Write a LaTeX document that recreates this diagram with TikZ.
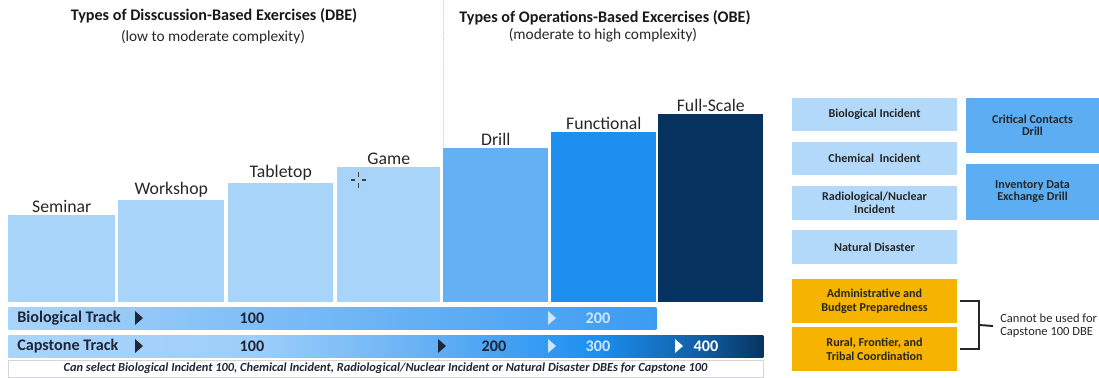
\documentclass[tikz,border=0pt]{standalone}
\usepackage{fontspec}
\setmainfont{Carlito}
\usetikzlibrary{positioning,calc}
\definecolor{Pale}{HTML}{A9D4FA}
\definecolor{Sky}{HTML}{64B0F5}
\definecolor{Azure}{HTML}{1C8FF1}
\definecolor{Navy}{HTML}{073361}
\definecolor{BioEnd}{HTML}{3C9BF1}
\definecolor{Chip}{HTML}{B2D9F9}
\definecolor{ChipDark}{HTML}{5DADF2}
\definecolor{Gold}{HTML}{F6B401}
\definecolor{Ink}{HTML}{1E2638}
\definecolor{Mist}{HTML}{CDE6FC}
\definecolor{Rule}{HTML}{D2D6DA}
\newcommand{\px}{0.025cm}
\pgfdeclarehorizontalshading{capshade}{100bp}{color(0bp)=(Pale); color(25bp)=(Pale); color(41bp)=(Pale!85!Sky); color(53bp)=(Sky); color(64bp)=(Azure); color(71bp)=(Azure!45!Navy); color(75bp)=(Navy); color(100bp)=(Navy)}
\tikzset{
 barlbl/.style={font=\fontsize{12.6}{14}\selectfont,text=black!85,inner sep=1pt},
 bar/.style={anchor=south west,inner sep=0pt,minimum width=105*\px,label={[barlbl]above:#1}},
 head/.style={font=\bfseries\fontsize{11.5}{13}\selectfont,text=black!90},
 sub/.style={font=\fontsize{10.9}{12}\selectfont,text=black!85},
 track/.style={anchor=north west,inner sep=0pt,minimum height=22*\px},
 trk/.style={font=\bfseries\fontsize{11.5}{13}\selectfont,text=Ink,inner sep=0pt},
 notebox/.style={draw=Rule,fill=white,minimum width=755*\px,minimum height=17*\px,inner sep=0pt,font=\bfseries\itshape\fontsize{8.8}{9}\selectfont,text=Ink},
 chip/.style={fill=Chip,minimum width=165*\px,minimum height=33*\px,inner sep=1pt,align=center,font=\bfseries\fontsize{8.6}{9.6}\selectfont,text=black!85},
 chipdark/.style={chip,fill=ChipDark,minimum width=133*\px,minimum height=55*\px,font=\bfseries\fontsize{8.6}{8.4}\selectfont},
 goldchip/.style={chip,fill=Gold,minimum height=44*\px,font=\bfseries\fontsize{8.6}{10}\selectfont},
 brk/.style={draw=black!85,line width=1.4pt},
 divider/.style={densely dotted,draw=black!20}
}
\begin{document}
\begin{tikzpicture}[x=\px,y=-\px]
\useasboundingbox (0,0) rectangle (1099,377);
% headings
\node[head] (dbehead) at (214,16) {Types of Disscussion-Based Exercises (DBE)};
\node[sub] (dbesub) at (213,37) {(low to moderate complexity)};
\node[head] (obehead) at (605,18) {Types of Operations-Based Excercises (OBE)};
\node[sub] (obesub) at (603,35) {(moderate to high complexity)};
% exercise steps
\node[bar=Seminar,fill=Pale,minimum width=107*\px,minimum height=87*\px] (seminar) at (8,302) {};
\node[bar=Workshop,fill=Pale,minimum width=106*\px,minimum height=102*\px] (workshop) at (118,302) {};
\node[bar=Tabletop,fill=Pale,minimum height=119*\px] (tabletop) at (228,302) {};
\node[bar=Game,fill=Pale,minimum width=103*\px,minimum height=135*\px] (game) at (337,302) {};
\node[bar=Drill,fill=Sky,minimum height=154*\px] (drill) at (443,302) {};
\node[bar=Functional,fill=Azure,minimum height=170*\px] (functional) at (551,302) {};
\node[bar=Full-Scale,fill=Navy,minimum height=188*\px] (fullscale) at (658,302) {};
\draw[divider] (443,0) -- (drill.north west);
\draw[black!75,line width=0.8pt] (351,180)--(355,180) (362,180)--(366,180) (358.5,172)--(358.5,177) (358.5,183)--(358.5,188);
% tracks
\node[track,left color=Pale,right color=BioEnd,minimum width=648*\px] (biotrack) at (8,307) {};
\node[track,shading=capshade,minimum width=755*\px] (captrack) at (8,335) {};
\node[trk,anchor=west] (biolbl) at (17,318) {Biological Track};
\node[trk,anchor=west] (caplbl) at (17,346) {Capstone Track};
\node[trk] (bio100) at (252,318) {100};
\node[trk,text=Mist] (bio200) at (598,318) {200};
\node[trk] (cap100) at (252,346) {100};
\node[trk] (cap200) at (494,346) {200};
\node[trk,text=Mist] (cap300) at (598,346) {300};
\node[trk,text=white] (cap400) at (706,346) {400};
\foreach \x/\y/\c in {135/318/Ink,135/346/Ink,548/318/Mist,438/346/Ink,548/346/Mist,675/346/white}
  \fill[\c] (\x,\y-7) -- ++(8,7) -- ++(-8,7) -- cycle;
\node[notebox] (note) at (385.5,368.5) {Can select Biological Incident 100, Chemical Incident, Radiological/Nuclear Incident or Natural Disaster DBEs for Capstone 100};
% scenario topics
\node[chip] (biochip) at (874.5,114.5) {Biological Incident};
\node[chip] (chemchip) at (874.5,158.5) {Chemical\ \ Incident};
\node[chip,minimum height=34*\px] (radchip) at (874.5,203) {Radiological/Nuclear\\Incident};
\node[chip,minimum height=34*\px] (natchip) at (874.5,247) {Natural Disaster};
\node[chipdark] (ccdrill) at (1032.5,125.5) {Critical Contacts\\Drill};
\node[chipdark,minimum height=56*\px] (invdrill) at (1032.5,192) {Inventory Data\\Exchange Drill};
\node[goldchip] (admchip) at (874.5,301) {Administrative and\\Budget Preparedness};
\node[goldchip] (rurchip) at (874.5,349) {Rural, Frontier, and\\Tribal Coordination};
\draw[brk] ([xshift=3*\px]admchip.east) -- ++(19,0) |- ([xshift=3*\px]rurchip.east);
\coordinate (brkmid) at ($(admchip.east)!.5!(rurchip.east)+(22,0)$);
\node[anchor=west,align=left,inner sep=0pt,font=\fontsize{8.9}{9.2}\selectfont,text=black!85] (nocap) at (1000,326) {Cannot be used for\\Capstone 100 DBE};
\draw[brk] (brkmid) -- ($(nocap.west)+(-7,0)$);
\end{tikzpicture}
\end{document}
